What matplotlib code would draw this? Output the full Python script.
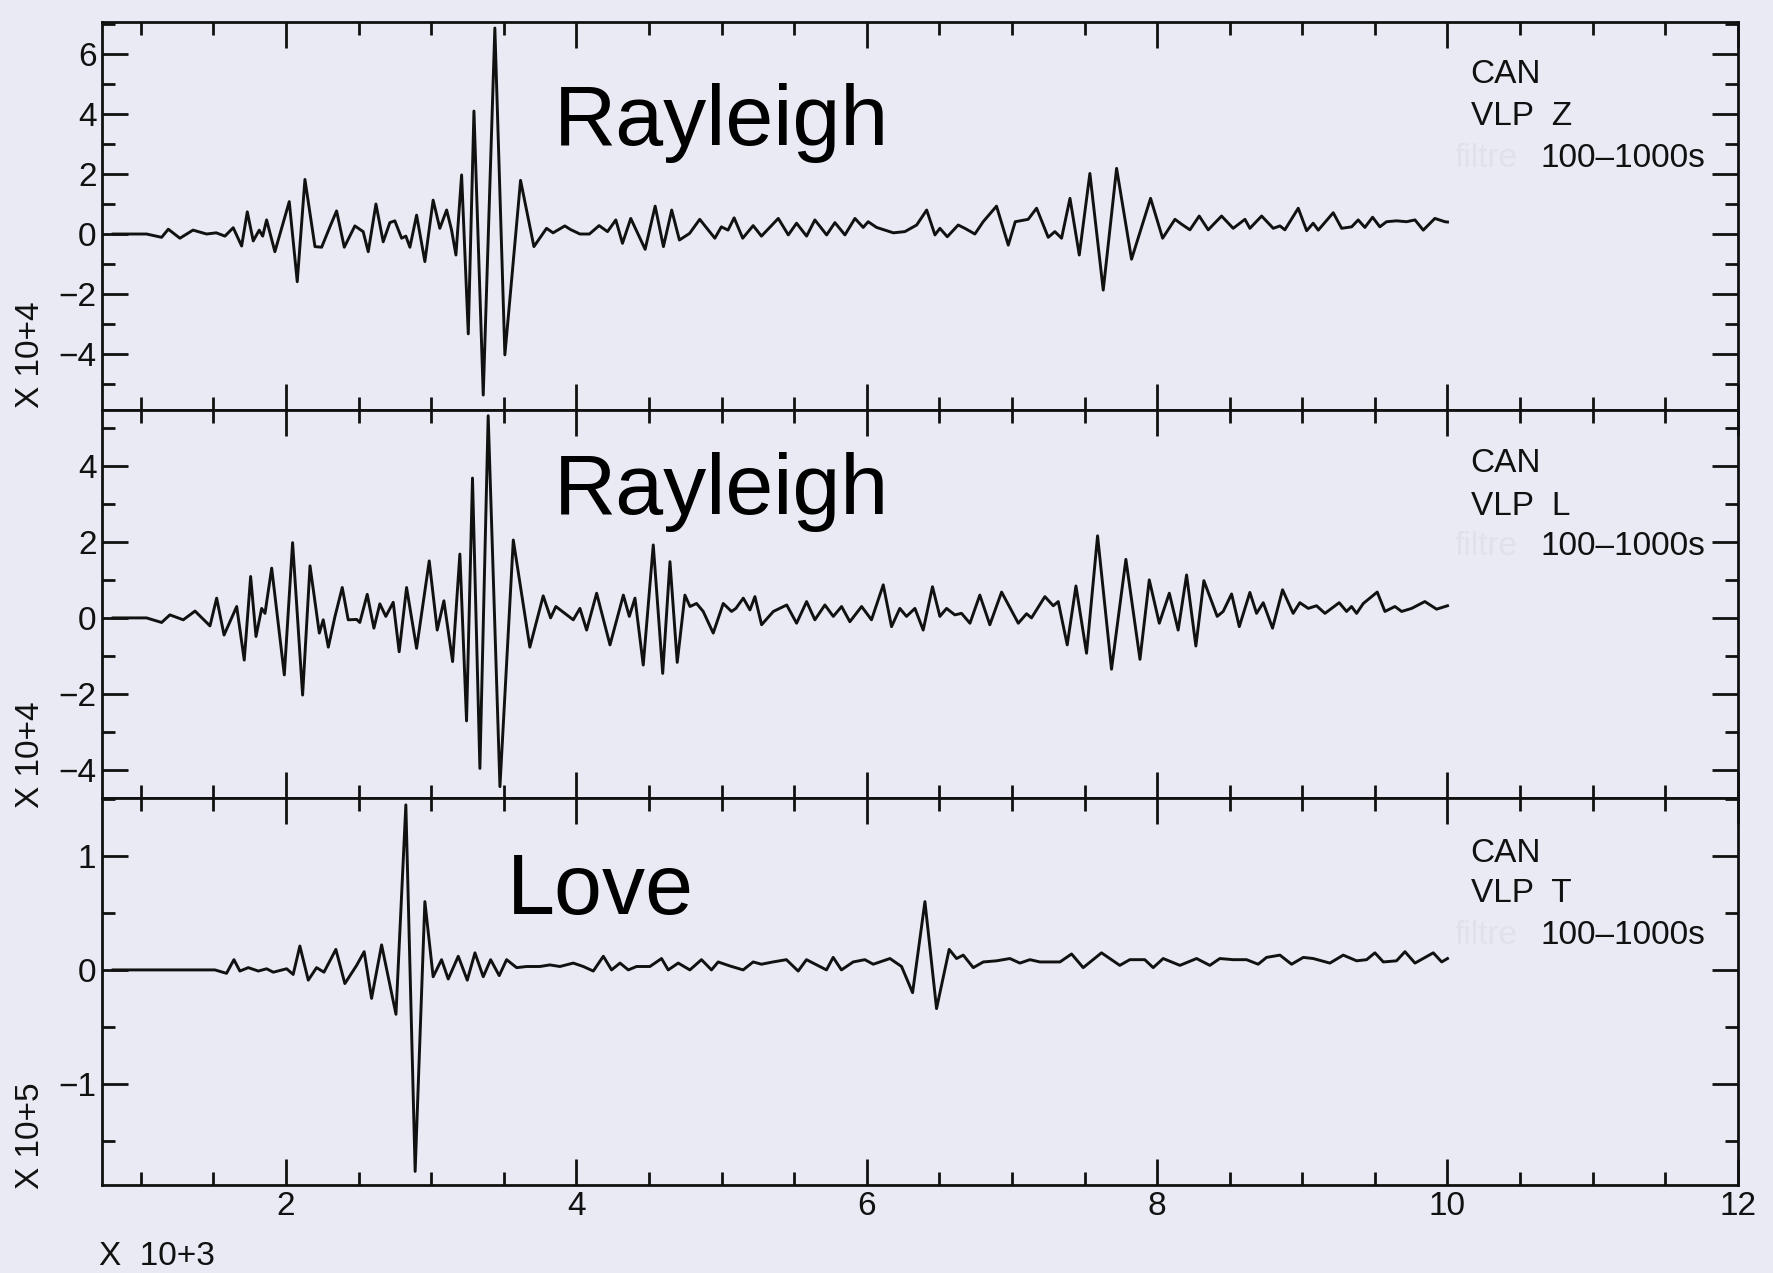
import numpy as np
import matplotlib; matplotlib.use("Agg")
import matplotlib.pyplot as plt
from matplotlib import font_manager

# the plotter lettering is narrow; take a narrow face when one is there
_names = {f.name for f in font_manager.fontManager.ttflist}
LETTER = "Liberation Sans Narrow" if "Liberation Sans Narrow" in _names else "Liberation Sans"
plt.rcParams.update({"font.family": [LETTER, "DejaVu Sans"],
                     "font.size": 22, "axes.linewidth": 2.0})
PAPER = "#e9eaf3"
INK = "#111111"

# time (x 10^3 s), amplitude pairs picked at the turning points of each trace
trace_z = [(0.81, 0), (1.04, 0.0), (1.144, -0.11), (1.19, 0.16), (1.27, -0.14), (1.36, 0.13),
           (1.454, 0.0), (1.52, 0.04), (1.58, -0.07), (1.637, 0.21), (1.695, -0.4), (1.734, 0.74),
           (1.775, -0.23), (1.816, 0.13), (1.84, -0.07), (1.867, 0.47), (1.924, -0.59), (2.023, 1.08),
           (2.078, -1.59), (2.131, 1.82), (2.2, -0.42), (2.246, -0.44), (2.303, 0.24), (2.349, 0.77),
           (2.402, -0.44), (2.475, 0.27), (2.532, 0.08), (2.567, -0.59), (2.62, 1.0), (2.67, -0.26),
           (2.716, 0.38), (2.75, 0.44), (2.797, -0.14), (2.826, -0.07), (2.854, -0.44), (2.9, 0.63),
           (2.957, -0.92), (3.014, 1.13), (3.06, 0.19), (3.107, 0.8), (3.141, 0.13), (3.171, -0.7),
           (3.21, 1.97), (3.256, -3.33), (3.295, 4.1), (3.359, -5.37), (3.439, 6.87), (3.508, -4.03),
           (3.616, 1.79), (3.708, -0.42), (3.795, 0.19), (3.84, 0.04), (3.882, 0.16), (3.921, 0.27),
           (3.96, 0.15), (4.025, 0.0), (4.09, 0.0), (4.157, 0.28), (4.215, 0.08), (4.272, 0.47),
           (4.318, -0.31), (4.375, 0.52), (4.474, -0.51), (4.543, 0.93), (4.6, -0.42), (4.657, 0.8),
           (4.71, -0.2), (4.78, 0.02), (4.85, 0.49), (4.954, -0.14), (4.999, 0.24), (5.045, 0.13),
           (5.087, 0.54), (5.146, -0.14), (5.218, 0.28), (5.275, -0.07), (5.391, 0.52), (5.46, -0.03),
           (5.517, 0.36), (5.586, -0.07), (5.643, 0.47), (5.724, -0.03), (5.781, 0.38), (5.85, -0.03),
           (5.919, 0.52), (5.976, 0.22), (6.01, 0.41), (6.068, 0.22), (6.183, 0.04), (6.263, 0.08),
           (6.344, 0.3), (6.413, 0.8), (6.47, -0.03), (6.504, 0.19), (6.555, -0.09), (6.63, 0.3),
           (6.676, 0.19), (6.745, 0.0), (6.802, 0.41), (6.894, 0.93), (6.975, -0.37), (7.023, 0.41),
           (7.112, 0.49), (7.17, 0.86), (7.25, -0.11), (7.296, 0.08), (7.342, -0.14), (7.4, 1.19),
           (7.464, -0.7), (7.537, 2.02), (7.629, -1.87), (7.721, 2.19), (7.824, -0.84), (7.955, 1.19),
           (8.038, -0.14), (8.123, 0.49), (8.168, 0.33), (8.226, 0.14), (8.29, 0.6), (8.352, 0.14),
           (8.444, 0.6), (8.524, 0.19), (8.605, 0.49), (8.639, 0.19), (8.72, 0.6), (8.8, 0.19),
           (8.846, 0.27), (8.88, 0.14), (8.972, 0.86), (9.03, 0.11), (9.075, 0.36), (9.11, 0.13),
           (9.213, 0.71), (9.271, 0.19), (9.34, 0.24), (9.385, 0.47), (9.431, 0.22), (9.484, 0.56),
           (9.534, 0.24), (9.58, 0.41), (9.649, 0.44), (9.718, 0.41), (9.776, 0.47), (9.833, 0.13),
           (9.913, 0.52), (9.982, 0.41), (10.0, 0.4)]

trace_l = [(0.81, 0), (1.04, 0), (1.144, -0.12), (1.201, 0.08), (1.293, -0.05), (1.374, 0.18),
           (1.477, -0.21), (1.523, 0.52), (1.574, -0.45), (1.661, 0.3), (1.713, -1.11), (1.757, 1.09),
           (1.794, -0.49), (1.833, 0.25), (1.856, 0.12), (1.902, 1.31), (1.989, -1.5), (2.046, 1.98),
           (2.115, -2.03), (2.166, 1.37), (2.23, -0.4), (2.257, -0.05), (2.292, -0.77), (2.338, 0.04),
           (2.388, 0.8), (2.429, -0.05), (2.487, -0.04), (2.509, -0.12), (2.56, 0.62), (2.606, -0.27),
           (2.647, 0.37), (2.688, 0.04), (2.739, 0.41), (2.78, -0.89), (2.831, 0.8), (2.9, -0.8),
           (2.987, 1.5), (3.042, -0.32), (3.088, 0.45), (3.148, -1.15), (3.198, 1.68), (3.244, -2.71),
           (3.285, 3.68), (3.336, -3.96), (3.393, 5.32), (3.474, -4.44), (3.566, 2.05), (3.68, -0.77),
           (3.772, 0.58), (3.823, 0.0), (3.859, 0.3), (3.91, 0.15), (3.979, -0.05), (4.025, 0.25),
           (4.071, -0.32), (4.14, 0.65), (4.232, -0.71), (4.324, 0.6), (4.365, 0.04), (4.404, 0.52),
           (4.461, -1.24), (4.53, 1.92), (4.595, -1.46), (4.645, 1.48), (4.695, -1.17), (4.748, 0.6),
           (4.783, 0.3), (4.828, 0.38), (4.874, 0.17), (4.943, -0.4), (5.012, 0.38), (5.069, 0.17),
           (5.099, 0.25), (5.15, 0.52), (5.196, 0.21), (5.23, 0.56), (5.276, -0.18), (5.357, 0.17),
           (5.449, 0.34), (5.517, -0.14), (5.586, 0.43), (5.643, -0.05), (5.712, 0.34), (5.77, 0.04),
           (5.827, 0.3), (5.884, -0.1), (5.965, 0.3), (6.033, -0.05), (6.114, 0.87), (6.171, -0.23),
           (6.228, 0.25), (6.274, 0.04), (6.332, 0.25), (6.389, -0.32), (6.453, 0.82), (6.504, 0.04),
           (6.55, 0.25), (6.607, 0.08), (6.653, 0.12), (6.711, -0.14), (6.779, 0.6), (6.848, -0.18),
           (6.929, 0.68), (7.044, -0.14), (7.101, 0.11), (7.135, 0.0), (7.227, 0.56), (7.285, 0.32),
           (7.319, 0.43), (7.381, -0.71), (7.441, 0.84), (7.514, -0.93), (7.59, 2.16), (7.686, -1.35),
           (7.785, 1.54), (7.882, -1.09), (7.946, 1.0), (8.015, -0.14), (8.084, 0.65), (8.145, -0.32),
           (8.203, 1.13), (8.267, -0.74), (8.322, 0.98), (8.414, 0.04), (8.455, 0.17), (8.513, 0.63),
           (8.566, -0.23), (8.639, 0.67), (8.685, 0.12), (8.731, 0.4), (8.795, -0.27), (8.864, 0.74),
           (8.937, 0.12), (8.983, 0.4), (9.041, 0.25), (9.098, 0.32), (9.156, 0.12), (9.254, 0.4),
           (9.305, 0.17), (9.339, 0.3), (9.374, 0.12), (9.42, 0.38), (9.516, 0.68), (9.569, 0.17),
           (9.638, 0.3), (9.684, 0.17), (9.753, 0.25), (9.844, 0.43), (9.925, 0.23), (10.0, 0.32)]

trace_t = [(0.81, 0), (1.511, 0), (1.591, -0.03), (1.642, 0.09), (1.683, -0.01), (1.741, 0.02),
           (1.81, -0.01), (1.867, 0.01), (1.913, -0.02), (2.005, 0.01), (2.05, -0.04), (2.096, 0.21),
           (2.154, -0.09), (2.211, 0.02), (2.262, -0.02), (2.344, 0.18), (2.406, -0.12), (2.487, 0.04),
           (2.539, 0.16), (2.59, -0.25), (2.659, 0.22), (2.758, -0.39), (2.826, 1.45), (2.89, -1.77),
           (2.957, 0.6), (3.014, -0.06), (3.072, 0.09), (3.118, -0.08), (3.187, 0.12), (3.249, -0.09),
           (3.302, 0.15), (3.359, -0.06), (3.41, 0.09), (3.469, -0.05), (3.52, 0.09), (3.589, 0.02),
           (3.658, 0.03), (3.749, 0.03), (3.818, 0.044), (3.887, 0.03), (3.979, 0.06), (4.048, 0.03),
           (4.117, -0.01), (4.186, 0.12), (4.243, 0.0), (4.301, 0.06), (4.358, 0.0), (4.415, 0.03),
           (4.507, 0.03), (4.587, 0.1), (4.633, 0.0), (4.702, 0.06), (4.782, 0.0), (4.862, 0.09),
           (4.931, 0.0), (4.977, 0.07), (5.057, 0.035), (5.149, 0.0), (5.218, 0.07), (5.275, 0.05),
           (5.355, 0.07), (5.447, 0.09), (5.528, -0.01), (5.585, 0.09), (5.677, 0.03), (5.723, 0.0),
           (5.769, 0.11), (5.826, 0.0), (5.907, 0.07), (5.987, 0.09), (6.045, 0.05), (6.091, 0.07),
           (6.16, 0.1), (6.24, 0.03), (6.316, -0.2), (6.401, 0.6), (6.481, -0.34), (6.568, 0.18),
           (6.619, 0.1), (6.665, 0.13), (6.734, 0.02), (6.803, 0.07), (6.895, 0.08), (6.986, 0.1),
           (7.055, 0.06), (7.124, 0.09), (7.193, 0.07), (7.331, 0.07), (7.411, 0.14), (7.491, 0.02),
           (7.617, 0.15), (7.743, 0.04), (7.812, 0.09), (7.915, 0.09), (7.973, 0.02), (8.042, 0.1),
           (8.157, 0.04), (8.272, 0.1), (8.363, 0.04), (8.432, 0.1), (8.524, 0.09), (8.616, 0.09),
           (8.696, 0.05), (8.754, 0.11), (8.846, 0.13), (8.926, 0.05), (9.007, 0.11), (9.075, 0.1),
           (9.19, 0.06), (9.282, 0.13), (9.374, 0.08), (9.443, 0.09), (9.5, 0.15), (9.558, 0.07),
           (9.649, 0.08), (9.707, 0.16), (9.776, 0.06), (9.902, 0.15), (9.96, 0.07), (10.0, 0.1)]

components = ["Z", "L", "T"]
wave_names = ["Rayleigh", "Rayleigh", "Love"]
y_limits = [(-5.87, 7.07), (-4.74, 5.47), (-1.89, 1.51)]
y_major = [[-4, -2, 0, 2, 4, 6], [-4, -2, 0, 2, 4], [-1, 0, 1]]
y_minor_step = [1.0, 1.0, 0.5]
scale_labels = ["X 10+4", "X 10+4", "X 10+5"]
x_major = [2, 4, 6, 8, 10, 12]

# panel boxes in figure fractions (left, bottom, width, height); panels share edges
boxes = [(0.0575, 0.6779, 0.9227, 0.3048),
         (0.0575, 0.3731, 0.9227, 0.3048),
         (0.0575, 0.0691, 0.9227, 0.3040)]
# where the wave name and the station block sit in each panel (data units)
name_pos = [(3.846, 2.97), (3.846, 2.74), (3.519, 0.49)]
info_y = [(5.03, 3.63, 2.23), (3.83, 2.72, 1.66), (0.95, 0.60, 0.23)]
scale_y = [0.721, 0.407, 0.108]

fig = plt.figure(figsize=(17.73, 12.73), dpi=100, facecolor=PAPER)

for i, tr in enumerate([trace_z, trace_l, trace_t]):
    ax = fig.add_axes(boxes[i], facecolor=PAPER)
    t, a = np.array(tr).T
    ax.plot(t, a, color=INK, lw=2.1, solid_joinstyle="round")
    ax.set_xlim(0.733, 12)
    ax.set_ylim(*y_limits[i])
    ax.set_xticks(x_major)
    ax.set_xticks(np.arange(1.0, 12.0, 0.5), minor=True)
    ax.set_yticks(y_major[i])
    lo, hi = y_limits[i]
    step = y_minor_step[i]
    ax.set_yticks(np.arange(np.ceil(lo / step) * step, hi, step), minor=True)
    ax.set_yticklabels([f"{v:d}".replace("-", "\u2212") for v in y_major[i]])
    ax.tick_params(which="both", direction="in", top=True, right=True, width=2.0,
                   colors=INK, labelsize=24)
    ax.tick_params(which="major", length=19, pad=4)
    ax.tick_params(which="minor", length=9.5)
    if i < 2:
        ax.tick_params(axis="x", labelbottom=False)
    for s in ax.spines.values():
        s.set_color(INK)

    ax.text(*name_pos[i], wave_names[i], fontsize=62, family="Liberation Sans",
            color="black", va="baseline", ha="left")
    ax.text(10.05, info_y[i][2], "filtre", fontsize=24, color="#dfe2ea", va="baseline")
    ax.text(10.16, info_y[i][0], "CAN", fontsize=24, color=INK, va="baseline")
    ax.text(10.16, info_y[i][1], f"VLP  {components[i]}", fontsize=24, color=INK, va="baseline")
    ax.text(10.64, info_y[i][2], "100\u20131000s", fontsize=24, color=INK, va="baseline")

    fig.text(0.017, scale_y[i], scale_labels[i], rotation=90, fontsize=24,
             color=INK, ha="center", va="center")

fig.text(0.056, 0.006, "X  10+3", fontsize=24, color=INK, ha="left", va="baseline")

fig.savefig("out.png", dpi=100, facecolor=PAPER)
